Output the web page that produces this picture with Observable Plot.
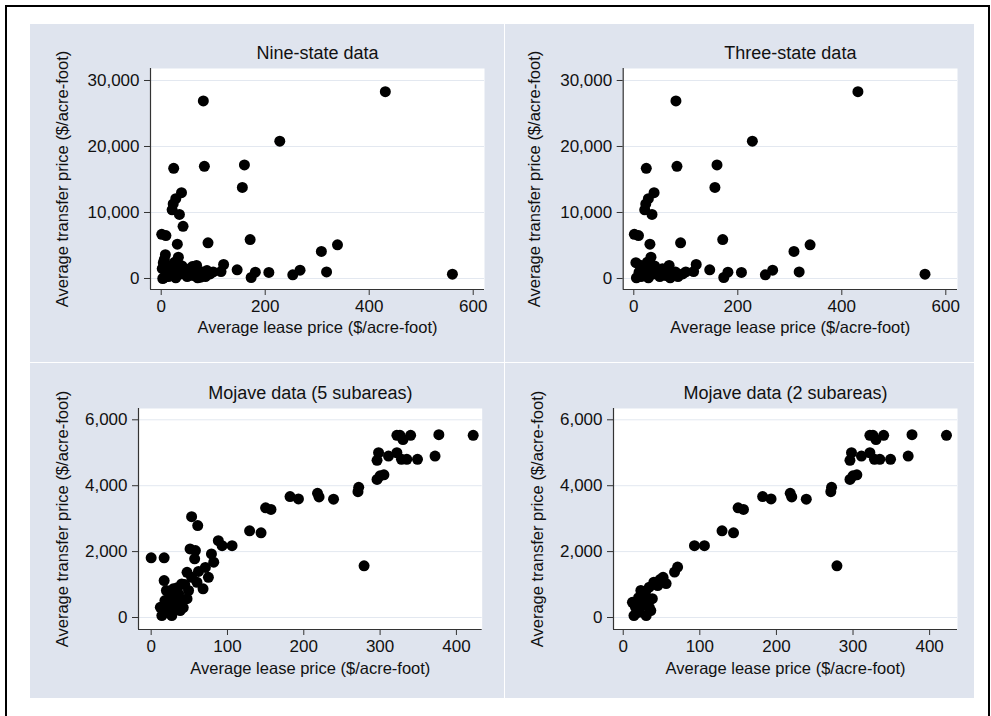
<!DOCTYPE html>
<html><head><meta charset="utf-8">
<script src="https://cdn.jsdelivr.net/npm/d3@7"></script>
<script src="https://cdn.jsdelivr.net/npm/@observablehq/plot@0.6"></script>
<style>
body{margin:0;background:#fff;font-family:"Liberation Sans",Arial,sans-serif;}
#root{position:relative;width:991px;height:716px;overflow:hidden;background:#fff;}
#border{position:absolute;left:5px;top:5px;width:985px;height:730px;border:2px solid #000;box-sizing:border-box;}
#bg{position:absolute;left:30px;top:24px;width:944px;height:674px;background:#dfe4ee;}
.vdiv{position:absolute;left:504px;top:24px;width:1px;height:674px;background:#fff;}
.hdiv{position:absolute;left:30px;top:362px;width:944px;height:1px;background:#fff;}
.panel{position:absolute;}
</style></head>
<body><div id="root"><div id="border"></div><div id="bg"></div><div class="vdiv"></div><div class="hdiv"></div></div>
<script>
// ---- Data (lease price $/acre-foot, transfer price $/acre-foot) ----
const threeStateLease    = [431, 81, 228, 24, 83, 160, 156, 39, 28, 23, 21, 35, 1, 9, 31, 90, 171, 308, 339, 560, 318, 267, 253, 207, 181, 173, 146, 120, 115,
                            4, 33, 17, 26, 10, 23, 55, 68, 62, 74, 94, 5, 14, 30, 20, 38, 45, 50, 58, 65, 70, 80, 85, 100, 40, 28, 12, 48];
const threeStateTransfer = [28300, 26900, 20800, 16700, 17000, 17200, 13800, 13000, 12100, 11300, 10400, 9700, 6700, 6500, 5200, 5400, 5900, 4100, 5100, 660, 1000, 1260, 560, 920, 960, 150, 1310, 2120, 1050,
                            2400, 3230, 1710, 2470, 950, 450, 1470, 1970, 450, 700, 700, 100, 300, 1300, 1200, 700, 1200, 300, 900, 1500, 100, 1000, 300, 1000, 1900, 100, 2000, 800];
const nineStateExtraLease    = [42, 8, 2, 6, 15, 3, 35, 60, 88, 76];
const nineStateExtraTransfer = [7900, 3600, 1500, 2900, 600, 0, 2100, 1800, 1200, 200];

const mojaveUpperLease    = [422, 377, 372, 349, 340, 335, 328, 330, 326, 322, 322, 311, 298, 296, 305, 300, 296, 272, 271, 279, 239, 220, 218, 193, 182, 157, 150, 144, 129, 106, 93];
const mojaveUpperTransfer = [5530, 5550, 4900, 4800, 5530, 4800, 4800, 5400, 5530, 5530, 5000, 4900, 5000, 4770, 4330, 4300, 4190, 3950, 3820, 1570, 3590, 3660, 3770, 3600, 3670, 3280, 3330, 2570, 2630, 2180, 2180];
const mojave5LowerLease    = [0, 17, 53, 61, 51, 58, 57, 79, 82, 88, 17, 47, 53, 71, 75, 68, 60, 40, 29, 20, 40, 47, 12, 14, 27, 38, 23, 32, 27, 18, 36, 49, 44, 34, 22, 30, 25, 42, 62];
const mojave5LowerTransfer = [1810, 1810, 3060, 2790, 2080, 2030, 1780, 1930, 1680, 2330, 1120, 1370, 1220, 1520, 1220, 870, 1070, 1020, 870, 820, 515, 570, 310, 60, 60, 210, 415, 615, 264, 515, 718, 820, 1000, 900, 180, 400, 650, 300, 1400];
const mojave2LowerLease    = [71, 67, 52, 56, 45, 34, 23, 27, 38, 16, 25, 34, 14, 30, 21, 36, 12, 29, 40, 48, 20, 31];
const mojave2LowerTransfer = [1530, 1380, 1220, 1030, 970, 920, 820, 620, 570, 310, 360, 310, 60, 60, 160, 210, 460, 770, 1070, 1150, 600, 500];

const titles = ["Nine-state data", "Three-state data", "Mojave data (5 subareas)", "Mojave data (2 subareas)"];
const xLabel = "Average lease price ($/acre-foot)";
const yLabel = "Average transfer price ($/acre-foot)";
const stateXTicks = [0, 200, 400, 600];
const stateYTicks = [0, 10000, 20000, 30000];
const mojaveXTicks = [0, 100, 200, 300, 400];
const mojaveYTicks = [0, 2000, 4000, 6000];

function pairs(xs, ys) { return xs.map((x, i) => ({lease: x, transfer: ys[i]})); }

const panels = [
  {data: pairs(threeStateLease.concat(nineStateExtraLease), threeStateTransfer.concat(nineStateExtraTransfer)),
   title: titles[0], xd: [-20.6, 621.7], yd: [-1667, 31818], xt: stateXTicks, yt: stateYTicks,
   L: 30, T: 24, W: 474, H: 338, ml: 120, mt: 44, mr: 20, mb: 73, ydx: -88, xdy: 38},
  {data: pairs(threeStateLease, threeStateTransfer),
   title: titles[1], xd: [-20.4, 622.5], yd: [-1667, 31818], xt: stateXTicks, yt: stateYTicks,
   L: 505, T: 24, W: 469, H: 338, ml: 117.7, mt: 44, mr: 17, mb: 73, ydx: -88, xdy: 38},
  {data: pairs(mojaveUpperLease.concat(mojave5LowerLease), mojaveUpperTransfer.concat(mojave5LowerTransfer)),
   title: titles[2], xd: [-16.6, 433.8], yd: [-364, 6343], xt: mojaveXTicks, yt: mojaveYTicks,
   L: 30, T: 363, W: 474, H: 335, ml: 108, mt: 45, mr: 22.3, mb: 69, ydx: -76, xdy: 39},
  {data: pairs(mojaveUpperLease.concat(mojave2LowerLease), mojaveUpperTransfer.concat(mojave2LowerTransfer)),
   title: titles[3], xd: [-12.7, 436.4], yd: [-364, 6343], xt: mojaveXTicks, yt: mojaveYTicks,
   L: 505, T: 363, W: 469, H: 335, ml: 108, mt: 45, mr: 17, mb: 69, ydx: -76, xdy: 39}
];

const root = document.getElementById("root");
for (const p of panels) {
  const chart = Plot.plot({
    width: p.W, height: p.H,
    marginLeft: p.ml, marginTop: p.mt, marginRight: p.mr, marginBottom: p.mb,
    style: {background: "transparent", fontFamily: "Liberation Sans, Arial, sans-serif", color: "#111", overflow: "visible"},
    x: {domain: p.xd, label: null},
    y: {domain: p.yd, label: null},
    marks: [
      Plot.frame({fill: "white", stroke: null}),
      Plot.gridY(p.yt, {stroke: "#e3e8f0", strokeOpacity: 1, strokeWidth: 1}),
      Plot.axisY(p.yt, {tickFormat: d3.format(","), fontSize: 17, tickSize: 6, tickPadding: 5, stroke: "#333", label: null}),
      Plot.axisX(p.xt, {fontSize: 17, tickSize: 6, tickPadding: 4, stroke: "#333", label: null}),
      Plot.ruleX([p.xd[0]], {stroke: "#333", strokeWidth: 1.2}),
      Plot.ruleY([p.yd[0]], {stroke: "#333", strokeWidth: 1.2}),
      Plot.dot(p.data, {x: "lease", y: "transfer", r: 5.5, fill: "black"}),
      Plot.text([p.title], {text: d => d, frameAnchor: "top", dy: -15, textAnchor: "middle", lineAnchor: "middle", fontSize: 18, fill: "#111"}),
      Plot.text([xLabel], {text: d => d, frameAnchor: "bottom", dy: p.xdy, textAnchor: "middle", lineAnchor: "middle", fontSize: 16.5, fill: "#111"}),
      Plot.text([yLabel], {text: d => d, frameAnchor: "left", dx: p.ydx, rotate: -90, textAnchor: "middle", lineAnchor: "middle", fontSize: 16.5, fill: "#111"})
    ]
  });
  chart.classList.add("panel");
  chart.style.left = p.L + "px";
  chart.style.top = p.T + "px";
  root.appendChild(chart);
}
</script>
</body></html>
